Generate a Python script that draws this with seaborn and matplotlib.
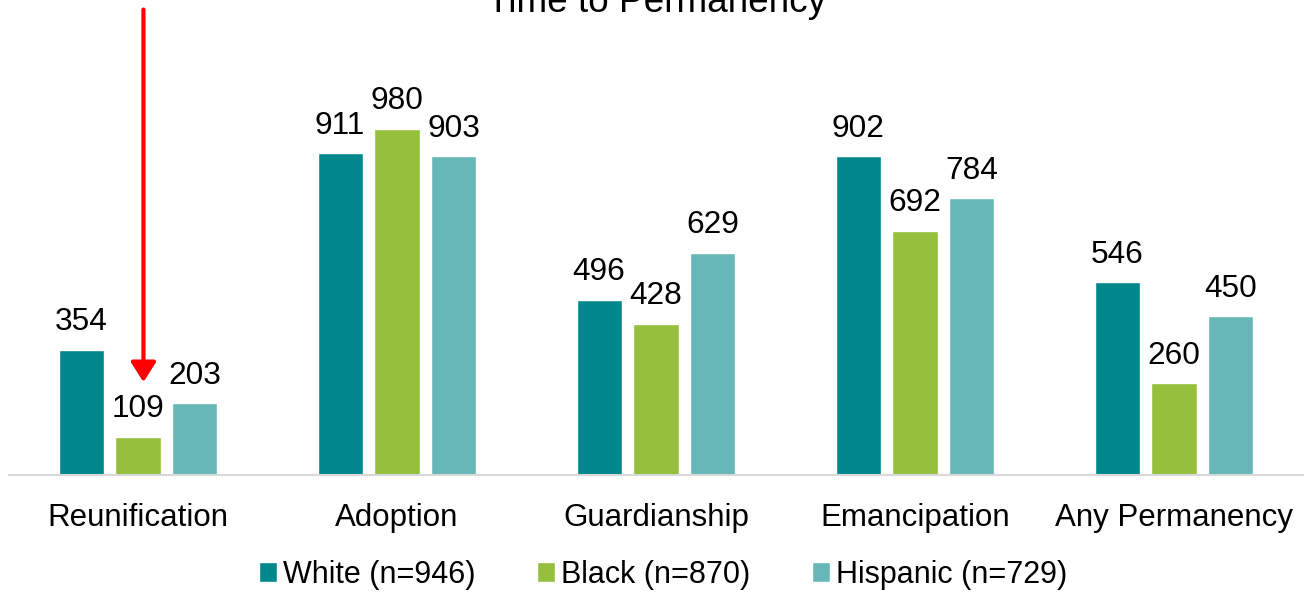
import matplotlib
matplotlib.use("Agg")
import matplotlib.pyplot as plt
import seaborn as sns
import pandas as pd

# Median days to permanency by outcome and race/ethnicity
categories = ["Reunification", "Adoption", "Guardianship", "Emancipation", "Any Permanency"]
white = [354, 911, 496, 902, 546]
black = [109, 980, 428, 692, 260]
hispanic = [203, 903, 629, 784, 450]
groups = ["White (n=946)", "Black (n=870)", "Hispanic (n=729)"]
colors = ["#00878C", "#95C03E", "#67B7B9"]
title = "Time to Permanency"

sns.set_theme(style="white")
plt.rcParams["font.family"] = ["Liberation Sans", "DejaVu Sans"]
plt.rcParams["text.color"] = "black"

rows = []
for g, vals in zip(groups, [white, black, hispanic]):
    for c, v in zip(categories, vals):
        rows.append({"category": c, "group": g, "days": v})
df = pd.DataFrame(rows)

fig = plt.figure(figsize=(13.04, 5.96), dpi=100)
ax = fig.add_axes([8.5 / 1304, 121 / 596, 1295 / 1304, 475 / 596])

sns.barplot(data=df, x="category", y="days", hue="group", order=categories,
            hue_order=groups, palette=colors, width=0.66, gap=0.21,
            saturation=1, errorbar=None, ax=ax, legend=True)

for cont in ax.containers:
    ax.bar_label(cont, fmt="%d", padding=9, fontsize=22.8, color="black")

ax.set_ylim(0, 1345)
ax.set_xlim(-0.5, 4.5)
ax.set_xlabel("")
ax.set_ylabel("")
ax.set_yticks([])
ax.tick_params(axis="x", length=0, pad=20, labelsize=22.5, labelcolor="black")
for side in ["top", "right", "left"]:
    ax.spines[side].set_visible(False)
ax.spines["bottom"].set_color("#D9D9D9")
ax.spines["bottom"].set_linewidth(1.5)

# Arrow pointing at the Black reunification bar
ax.annotate("", xy=(0.021, 263), xytext=(0.021, 1318),
            arrowprops=dict(arrowstyle="-|>,head_length=0.6,head_width=0.38",
                            color="#FF0000", lw=3, mutation_scale=20,
                            shrinkA=0, shrinkB=0))

fig.text(657 / 1304, 1 - 12 / 596, title, ha="center", va="baseline",
         fontsize=26.6, color="black")

leg = ax.legend(loc="center", bbox_to_anchor=(663 / 1304, 1 - 575 / 596),
                bbox_transform=fig.transFigure, ncol=3, frameon=False,
                fontsize=22, handlelength=0.6, handleheight=0.65,
                handletextpad=0.2, columnspacing=2.0, borderpad=0, borderaxespad=0)
for t in leg.get_texts():
    t.set_color("black")

fig.savefig("out.png", dpi=100)
